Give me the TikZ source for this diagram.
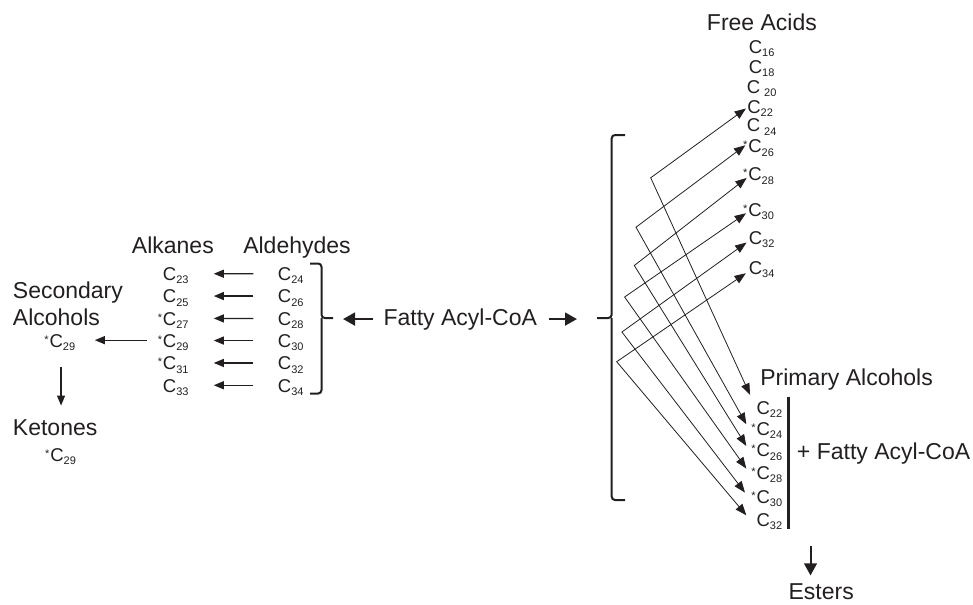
\documentclass[tikz,border=0pt]{standalone}
\usepackage{fontspec}
\setmainfont{Liberation Sans}
\usetikzlibrary{arrows.meta,calc}
\definecolor{ink}{HTML}{231F20}
\newcommand{\cs}[1]{C\raisebox{-2.5pt}{\fontsize{8.25}{9}\selectfont #1}}
\newcommand{\csp}[1]{C\kern3pt\raisebox{-2.5pt}{\fontsize{8.25}{9}\selectfont #1}}
\newcommand{\acs}[1]{\llap{\raisebox{3pt}{\fontsize{8.25}{9}\selectfont *}\kern0.6pt}\cs{#1}}
\begin{document}
\begin{tikzpicture}[x=0.75pt,y=-0.75pt,
  every node/.style={text=ink},
  lab/.style={font=\fontsize{17.25}{20}\selectfont, inner sep=0pt, anchor=base west},
  itm/.style={font=\fontsize{13.9}{15}\selectfont, inner sep=0pt, anchor=base west},
  arr/.style={draw=ink, line width=0.9pt, -{Triangle[length=7.5pt,width=6pt]}},
  xarr/.style={draw=ink, line width=0.6pt, line join=miter, {Triangle[length=8.5pt,width=6.5pt]}-{Triangle[length=8.5pt,width=6.5pt]}},
  bigarr/.style={draw=ink, line width=2pt, -{Triangle[length=9pt,width=9.5pt]}},
  brk/.style={draw=ink, line width=1.5pt, rounded corners=2.5pt}]
\useasboundingbox (0,0) rectangle (973,604);

% ---- left part: alkanes / aldehydes
\node[lab] (alkl) at (131.7,253.3) {Alkanes};
\node[lab] (aldl) at (243,253.3) {Aldehydes};
\node[itm] (alk23) at (162.7,280.5) {\cs{23}};
\node[itm] (alk25) at (162.7,302.8) {\cs{25}};
\node[itm] (alk27) at (162.7,325.2) {\acs{27}};
\node[itm] (alk29) at (162.7,347.3) {\acs{29}};
\node[itm] (alk31) at (162.7,369.7) {\acs{31}};
\node[itm] (alk33) at (162.7,392) {\cs{33}};
\node[itm] (ald24) at (277.7,280.5) {\cs{24}};
\node[itm] (ald26) at (277.7,302.8) {\cs{26}};
\node[itm] (ald28) at (277.7,325.2) {\cs{28}};
\node[itm] (ald30) at (277.7,347.3) {\cs{30}};
\node[itm] (ald32) at (277.7,369.7) {\cs{32}};
\node[itm] (ald34) at (277.7,392) {\cs{34}};
\foreach \a/\b in {24/23,26/25,28/27,30/29,32/31,34/33}
  \draw[arr, shorten <=18.3pt, shorten >=18.7pt] ([yshift=1.5pt]ald\a.west) -- ([yshift=1.5pt]alk\b.east);

% secondary alcohols / ketones
\node[lab] (secl) at (12.7,298.3) {Secondary};
\node[lab] (secl2) at (12.7,325) {Alcohols};
\node[itm] (sec29) at (49.3,347.3) {\acs{29}};
\node[lab] (ketl) at (12.7,435) {Ketones};
\node[itm] (ket29) at (50,461) {\acs{29}};
\draw[arr, shorten <=12pt, shorten >=14.5pt] ([yshift=1.8pt]alk29.west) -- ([yshift=1.8pt]sec29.east);
\draw[arr, shorten <=12pt, shorten >=10pt] ([xshift=-1pt]sec29.south) -- ([xshift=-1pt]sec29.south |- ketl.north);

% brace for aldehydes
\coordinate (aldtick) at (333,318);
\draw[brk] (310,263.5) -| (321.5,318) -- (aldtick);
\draw[brk] (321.5,318) |- (310,393.5);

% central Fatty Acyl-CoA
\node[lab] (fac) at (383.3,325) {Fatty Acyl-CoA};
\coordinate (bigtick) at (597,318);
\draw[bigarr, shorten <=7.5pt, shorten >=7.5pt] (fac.west) -- (aldtick |- fac.west);
\draw[bigarr, shorten <=8.7pt, shorten >=15pt] (fac.east) -- (bigtick |- fac.east);

% big bracket
\draw[brk] (625,135) -| (611.7,318) -- (bigtick);
\draw[brk] (611.7,318) |- (625,500);

% free acids
\node[lab] (fal) at (706.7,30) {Free Acids};
\node[itm] (fa16) at (748.5,53.3) {\cs{16}};
\node[itm] (fa18) at (748.5,73.3) {\cs{18}};
\node[itm] (fa20) at (746.5,93.3) {\csp{20}};
\node[itm] (fa22) at (747,113.3) {\cs{22}};
\node[itm] (fa24) at (746.5,131.7) {\csp{24}};
\node[itm] (fa26) at (748,152.7) {\acs{26}};
\node[itm] (fa28) at (748,180.7) {\acs{28}};
\node[itm] (fa30) at (748,216) {\acs{30}};
\node[itm] (fa32) at (748.5,244) {\cs{32}};
\node[itm] (fa34) at (748.5,274) {\cs{34}};

% primary alcohols
\node[lab] (pal) at (760,385) {Primary Alcohols};
\node[itm] (pa22) at (756.3,414) {\cs{22}};
\node[itm] (pa24) at (756.3,435) {\acs{24}};
\node[itm] (pa26) at (756.3,456.7) {\acs{26}};
\node[itm] (pa28) at (756.3,479.3) {\acs{28}};
\node[itm] (pa30) at (756.3,503.3) {\acs{30}};
\node[itm] (pa32) at (756.3,526) {\cs{32}};
\coordinate (bartop) at (788.3,396.7);
\coordinate (barbot) at (788.3,529.3);
\draw[draw=ink, line width=1.8pt] (bartop) -- (barbot);
\node[lab] (plus) at (796.7,459.3) {+ Fatty Acyl-CoA};

% crossing connectors
\coordinate (v1) at (650.7,177.8);
\coordinate (v2) at (636,227.2);
\coordinate (v3) at (634.3,265.5);
\coordinate (v4) at (624.6,297);
\coordinate (v5) at (621.9,332);
\coordinate (v6) at (616.7,361.7);
\draw[xarr] ([xshift=-0.8pt]fa22.west) -- (v1) -- ([xshift=-4.7pt,yshift=10.8pt]pa22.west);
\draw[xarr] ([xshift=-2pt,yshift=2pt]fa26.west) -- (v2) -- ([xshift=-7.5pt,yshift=4.5pt]pa24.west);
\draw[xarr] ([xshift=-1pt,yshift=-1.5pt]fa28.west) -- (v3) -- ([xshift=-7.5pt,yshift=4.5pt]pa26.west);
\draw[xarr] ([xshift=-1.5pt,yshift=-1.5pt]fa30.west) -- (v4) -- ([xshift=-7.5pt,yshift=4.5pt]pa28.west);
\draw[xarr] ([xshift=-1.5pt,yshift=-2.5pt]fa32.west) -- (v5) -- ([xshift=-8.5pt,yshift=4.5pt]pa30.west);
\draw[xarr] ([xshift=-2pt,yshift=-3pt]fa34.west) -- (v6) -- ([xshift=-7.5pt,yshift=4.5pt]pa32.west);

% esters
\node[lab] (est) at (788.3,599.5) {Esters};
\coordinate (estarr) at (810.5,545.5);
\draw[bigarr, line width=1.5pt, shorten >=6pt] (estarr) -- (estarr |- est.north);
\end{tikzpicture}
\end{document}
